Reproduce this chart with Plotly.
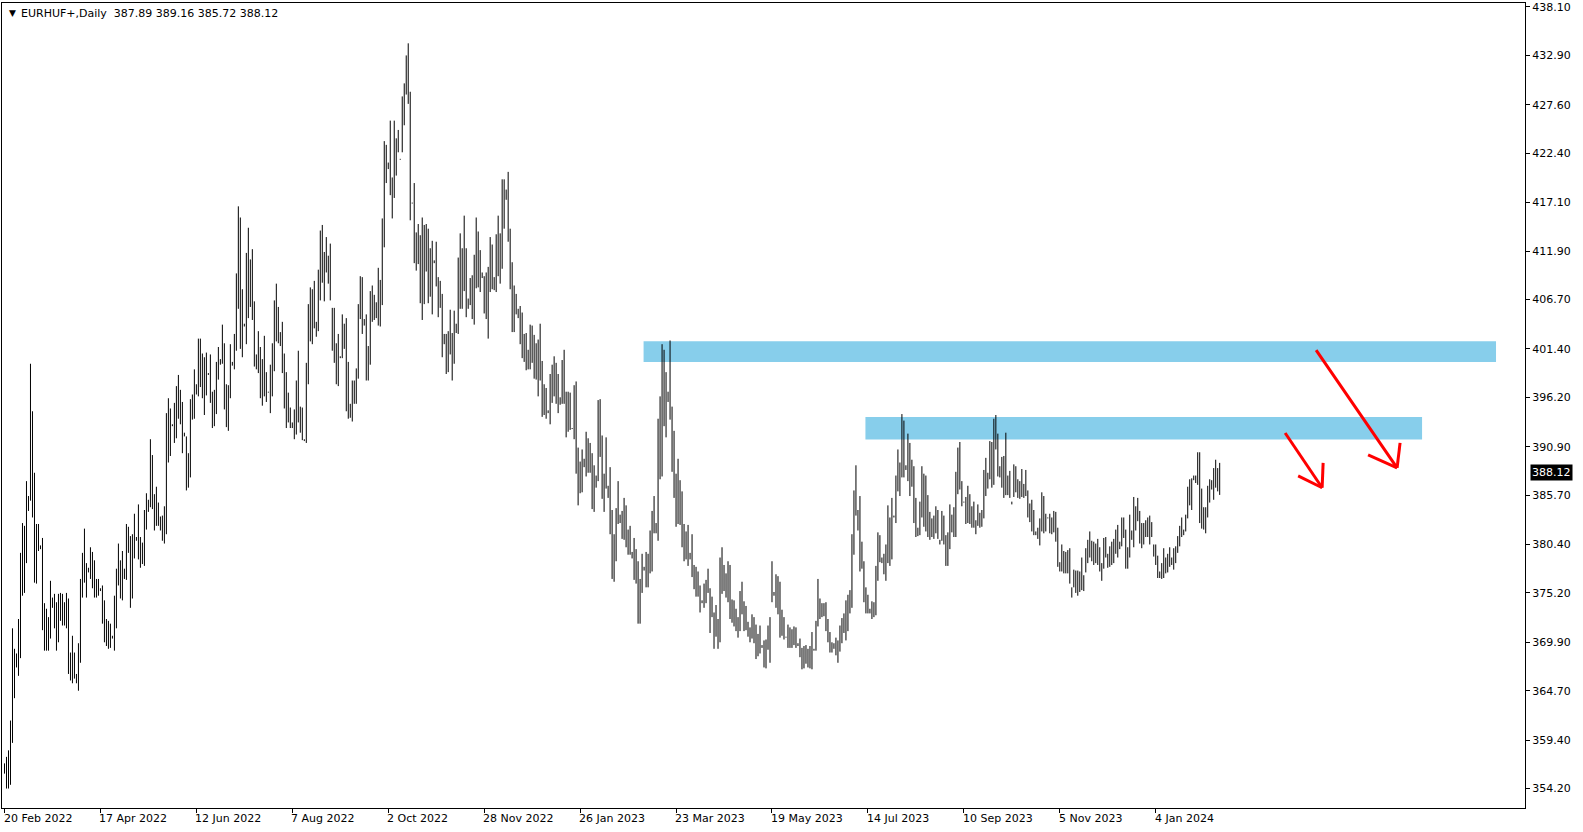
import plotly.graph_objects as go

symbol_title = "EURHUF+,Daily"
last_ohlc = [387.89, 389.16, 385.72, 388.12]

# Daily bar highs (left to right)
highs = [
    356.9, 357.6, 358.3, 361.5, 371.4, 369.2, 368.7, 372.4, 379.5, 382.7,
    382.4, 387.2, 385.6, 399.8, 394.7, 388.1, 382.6, 382.6, 380.3, 381.1,
    374.1, 373.5, 372.6, 376.5, 374.7, 375.1, 374.2, 375.1, 375.2, 375.1,
    374.2, 375.2, 374.6, 368.8, 370.6, 368.8, 366.5, 369.8, 376.7, 379.5,
    382.1, 378.4, 377.9, 380.1, 379.6, 378.7, 376.7, 376.7, 375.7, 376.0,
    374.4, 372.4, 372.2, 371.9, 370.6, 374.9, 377.8, 380.5, 378.7, 379.7,
    377.8,
    382.6, 382.3, 381.3, 381.5, 383.7, 381.2, 384.7, 381.2, 380.6, 384.1,
    385.9, 385.2, 391.7, 390.0, 385.8, 386.6, 384.9, 383.4, 383.5, 384.5,
    394.5, 396.1, 395.0, 393.3, 395.6, 397.4, 398.6, 397.0, 395.7, 392.4,
    392.0, 390.2, 396.0, 396.5, 399.2, 397.6, 402.5, 402.5, 400.9, 400.5,
    401.0, 398.8, 400.8, 396.8, 397.0, 400.0, 401.6, 400.3, 404.0, 402.0,
    397.6, 397.5, 401.9, 400.0, 403.0, 409.5, 416.7, 415.5, 407.8, 404.1,
    411.7, 414.4, 411.0, 412.1, 406.5, 400.8, 403.3, 401.6, 400.3, 402.8,
    398.9, 396.8, 399.7, 402.0, 406.6, 408.4, 405.9, 403.2, 404.3, 400.9,
    398.9, 396.7, 395.1, 393.5, 394.9, 398.0, 401.2, 395.2, 395.1, 391.7,
    399.9, 406.2, 408.0, 407.8, 408.7, 404.3, 409.9, 414.1, 414.7, 411.8,
    413.4, 411.4, 412.7, 405.8, 405.8, 402.0, 403.0, 400.6, 405.1, 404.1,
    404.7, 400.0, 395.5, 398.0, 398.0, 399.3, 406.2, 409.2, 409.1, 404.6,
    405.1, 401.7, 407.6, 408.2, 407.2, 406.4, 410.1, 408.8, 415.4, 423.7,
    423.3, 421.4, 425.9, 419.8, 425.9, 424.0, 424.9, 421.8, 428.5, 429.9,
    432.9, 434.2, 429.0, 417.1, 419.2, 413.9, 414.8, 413.6, 415.5, 414.7,
    414.8, 414.3, 412.2, 413.0, 410.9, 412.9, 409.1, 408.7, 407.3, 403.0,
    403.0, 403.3, 405.6, 403.1, 405.5, 404.1, 411.2, 413.8, 412.2, 415.7,
    412.2, 406.8, 409.0, 409.3, 411.5, 415.5, 414.0, 412.0, 409.6, 409.2,
    409.6, 410.2, 413.4, 412.6, 409.1, 413.7, 415.7, 413.8, 419.6, 419.6,
    418.5, 420.4, 414.3, 410.7, 408.2, 407.3, 405.7, 406.0, 405.3, 403.0,
    403.1, 401.3, 404.0, 403.9, 402.9, 402.0, 402.4, 404.1, 400.1, 397.6,
    397.2, 394.8, 398.7, 399.7, 400.6, 399.9, 398.7, 396.2, 400.2, 401.3,
    396.8, 396.8, 396.7, 392.9, 397.5, 397.9, 390.8, 389.3, 390.6, 389.6,
    392.5, 391.8, 391.3, 390.2, 388.9, 387.8, 395.9, 396.0, 392.1, 388.0,
    391.9, 386.7, 388.7, 384.1, 381.5, 384.3, 387.2, 383.6, 384.0, 385.4,
    384.6, 382.0, 382.4, 379.6, 381.1, 379.9, 378.6, 376.7, 379.4, 378.0,
    379.6, 379.4, 381.9, 384.0, 385.6, 382.7, 393.9, 396.3, 401.9, 401.3,
    398.9, 396.8, 402.3, 395.2, 392.6, 388.0, 389.6, 387.3, 386.1, 382.6,
    381.8, 382.5, 379.5, 381.5, 378.2, 378.0, 377.5, 376.0, 374.4, 376.2,
    376.6, 377.8, 375.7, 374.8, 373.1, 373.9, 372.4, 379.0, 380.1, 378.2,
    377.3, 378.6, 378.2, 374.5, 374.4, 373.5, 372.6, 375.4, 376.4, 374.3,
    373.8, 372.1, 371.5, 372.9, 372.6, 371.8, 370.8, 371.7, 369.6, 370.1,
    370.2, 371.7, 372.6, 378.6, 375.3, 377.2, 377.0, 376.4, 373.4, 372.6,
    370.5, 371.8, 371.5, 371.3, 371.6, 371.5, 369.8, 370.3, 369.3, 369.5,
    369.6, 369.2, 369.5, 371.0, 369.2, 372.2, 376.7, 374.6, 374.1, 374.1,
    374.2, 372.4, 371.0, 369.9, 369.8, 370.4, 370.1, 371.7, 372.5, 373.0,
    374.4, 375.0, 375.5, 381.5, 386.2, 388.9, 384.1, 385.6, 380.7, 378.6,
    375.8, 375.0, 373.5, 374.3, 374.2, 378.1, 381.7, 381.4, 379.0, 379.4,
    380.4, 384.6, 383.3, 385.4, 383.5, 387.8, 390.6, 389.2, 394.4, 393.7,
    388.9, 392.3, 391.3, 389.5, 388.8, 385.4, 382.2, 385.0, 388.8, 388.0,
    387.8, 385.7, 383.9, 383.2, 383.5, 384.5, 384.1, 380.9, 384.0, 383.5,
    381.4, 381.7, 384.7, 383.6, 384.4, 388.2, 390.8, 391.4, 387.2, 385.0,
    385.5, 386.7, 385.8, 384.5, 385.0, 383.0, 384.7, 383.8, 384.1, 388.4,
    389.7, 388.1, 391.5, 391.4, 393.9, 394.3, 392.3, 388.8, 389.8, 389.9,
    392.4, 387.8, 388.3, 385.0, 389.0, 388.8, 387.4, 387.2, 388.5, 386.9,
    388.4, 386.2, 384.8, 385.2, 384.1, 381.8, 382.2, 383.2, 386.0, 385.6,
    383.7, 383.3, 383.7, 383.3, 384.0, 383.9, 382.2, 378.5, 380.4, 379.7,
    379.6, 379.8, 380.0, 375.8, 377.7, 377.6, 377.6, 377.5, 379.0, 377.1,
    380.0, 380.9, 381.8, 380.8, 380.7, 380.5, 381.0, 380.1, 378.4, 381.1,
    381.2, 379.4, 380.2, 380.7, 381.0, 382.0, 382.5, 380.7, 383.3, 383.3,
    382.0, 380.1, 383.6, 381.9, 385.5, 384.5, 385.4, 384.0, 382.7, 382.7,
    383.0, 383.3, 383.5, 382.8, 380.4, 380.4, 379.2, 377.5, 378.4, 380.0,
    379.0, 379.4, 380.1, 379.0, 380.0, 380.2, 381.3, 382.4, 383.3, 382.0,
    383.6, 386.6, 387.4, 387.5, 387.8, 387.8, 390.3, 390.3, 386.4, 384.4,
    384.4, 386.7, 387.4, 387.3, 388.6, 389.5, 388.6, 389.16,
]

# Daily bar lows (left to right)
lows = [
    355.8, 354.2, 354.2, 354.6, 359.1, 363.9, 367.2, 366.3, 368.2, 374.9,
    375.2, 378.4, 384.0, 385.1, 383.3, 376.3, 376.2, 379.7, 379.9, 371.2,
    369.0, 369.0, 369.0, 370.3, 373.6, 371.4, 369.0, 369.9, 372.2, 371.7,
    371.7, 371.4, 366.5, 365.8, 365.5, 366.0, 365.5, 364.7, 367.7, 374.7,
    376.3, 374.7, 377.4, 376.7, 375.7, 374.7, 374.7, 374.9, 375.4, 371.9,
    369.9, 369.5, 369.2, 369.3, 370.3, 369.0, 371.4, 376.0, 374.6, 374.4,
    376.7,
    376.6, 379.5, 373.6, 374.6, 378.9, 380.8, 378.8, 377.9, 378.3, 378.1,
    382.0, 383.9, 384.4, 384.2, 381.9, 382.4, 382.4, 381.9, 380.8, 380.5,
    381.5, 389.2, 389.9, 393.1, 391.3, 391.8, 393.9, 393.3, 390.2, 392.0,
    386.2, 386.5, 387.6, 393.8, 393.9, 396.5, 396.3, 397.3, 396.1, 394.3,
    396.4, 398.6, 395.6, 392.9, 393.1, 394.4, 398.1, 399.7, 399.8, 394.9,
    393.0, 392.6, 396.1, 399.6, 399.2, 401.2, 405.7, 401.4, 400.5, 403.8,
    401.9, 404.7, 405.9, 404.5, 399.5, 399.2, 398.8, 396.1, 395.3, 396.3,
    395.7, 396.7, 394.5, 396.3, 399.0, 402.2, 402.0, 401.7, 398.8, 395.0,
    392.9, 393.5, 392.9, 392.9, 391.7, 392.2, 393.5, 392.4, 391.6, 391.5,
    391.3, 397.6, 402.2, 401.9, 403.6, 402.7, 403.3, 406.6, 408.5, 406.5,
    409.6, 408.4, 406.6, 401.2, 399.9, 397.6, 397.4, 400.4, 400.4, 401.4,
    394.7, 393.9, 394.0, 393.6, 395.5, 395.5, 398.2, 404.6, 403.0, 403.9,
    398.0, 398.0, 399.7, 404.3, 404.5, 404.7, 403.9, 403.8, 406.1, 412.3,
    419.2, 420.7, 417.9, 415.4, 417.6, 420.0, 422.5, 421.7, 422.5, 425.4,
    428.7, 427.7, 415.2, 417.0, 410.6, 409.8, 410.5, 406.3, 404.5, 406.2,
    409.7, 406.3, 407.0, 405.1, 410.6, 408.1, 404.8, 405.8, 400.5, 401.9,
    398.7, 398.9, 400.8, 398.0, 399.8, 403.1, 403.0, 405.7, 405.7, 407.6,
    404.8, 405.7, 406.1, 404.6, 404.0, 407.9, 408.0, 407.5, 409.0, 405.2,
    404.6, 402.5, 407.5, 407.8, 407.7, 407.5, 409.2, 408.4, 410.0, 414.3,
    417.4, 412.9, 407.8, 403.2, 403.2, 405.1, 404.7, 401.9, 400.4, 400.0,
    399.1, 399.2, 399.2, 399.9, 398.2, 398.1, 396.3, 398.0, 394.1, 394.3,
    393.9, 394.5, 393.3, 395.6, 396.3, 395.5, 394.5, 395.4, 395.5, 395.5,
    391.9, 392.5, 392.7, 392.8, 391.7, 388.0, 384.6, 385.9, 386.0, 388.7,
    387.7, 388.1, 388.1, 384.2, 383.9, 386.5, 387.2, 389.8, 385.3, 383.9,
    386.4, 385.4, 381.5, 376.7, 376.4, 378.6, 382.6, 382.7, 381.0, 380.9,
    380.1, 379.3, 379.3, 378.9, 376.6, 376.2, 371.9, 371.9, 375.2, 377.6,
    375.8, 375.8, 377.3, 377.5, 381.6, 381.6, 380.8, 387.4, 387.7, 393.1,
    391.9, 395.7, 393.8, 388.2, 385.4, 382.3, 382.6, 382.5, 380.1, 378.6,
    378.8, 378.1, 378.8, 376.9, 375.6, 374.8, 374.8, 373.1, 374.1, 373.6,
    374.1, 375.2, 370.9, 372.6, 369.2, 370.5, 369.2, 369.9, 375.1, 375.4,
    374.7, 374.2, 372.4, 372.0, 371.6, 371.1, 370.4, 371.1, 372.9, 371.1,
    371.2, 370.5, 369.9, 370.3, 369.8, 368.1, 368.4, 368.7, 369.3, 367.2,
    367.1, 369.1, 367.7, 374.2, 374.9, 373.6, 372.9, 370.4, 370.6, 370.2,
    370.4, 369.3, 369.3, 369.3, 369.6, 369.3, 369.5, 368.3, 367.0, 367.1,
    367.6, 367.2, 367.1, 367.0, 369.0, 369.0, 371.6, 372.4, 372.6, 372.7,
    371.1, 369.9, 368.8, 368.8, 369.2, 368.5, 367.7, 368.9, 369.8, 370.9,
    370.1, 371.1, 373.0, 373.6, 379.3, 383.5, 381.9, 377.5, 377.8, 374.2,
    373.0, 373.0, 373.0, 372.4, 372.6, 372.8, 376.5, 378.5, 378.4, 377.2,
    376.5, 378.4, 378.1, 378.8, 383.3, 382.7, 386.1, 385.6, 387.6, 387.6,
    388.4, 387.2, 385.6, 386.6, 382.7, 381.2, 381.3, 381.4, 383.3, 382.3,
    381.8, 381.2, 380.9, 381.2, 381.0, 381.6, 381.0, 380.4, 380.8, 380.4,
    378.1, 378.1, 379.9, 381.7, 381.2, 381.2, 385.8, 386.3, 384.5, 384.9,
    382.6, 382.7, 382.6, 382.2, 382.2, 381.5, 382.4, 382.2, 382.3, 383.2,
    385.6, 386.4, 387.4, 386.5, 386.8, 390.6, 387.7, 387.6, 386.5, 385.4,
    385.7, 385.7, 385.4, 384.7, 385.5, 386.0, 385.4, 385.3, 385.5, 385.4,
    385.6, 383.3, 382.8, 381.8, 381.4, 381.4, 381.0, 380.3, 381.8, 381.6,
    381.8, 383.2, 381.6, 381.5, 381.7, 380.7, 378.0, 377.5, 377.5, 377.3,
    377.3, 377.3, 376.2, 374.7, 375.8, 375.2, 374.9, 375.3, 375.5, 375.4,
    377.4, 378.4, 379.0, 378.6, 378.2, 378.4, 378.2, 377.5, 376.5, 377.8,
    379.0, 377.9, 378.0, 378.2, 378.4, 379.4, 379.0, 379.9, 380.2, 381.1,
    377.8, 377.8, 379.0, 380.9, 380.1, 381.9, 382.9, 380.5, 380.0, 380.4,
    381.2, 381.2, 380.4, 381.2, 379.1, 378.2, 376.8, 376.8, 376.7, 376.8,
    377.3, 377.4, 378.0, 378.2, 377.7, 378.4, 379.5, 380.2, 381.2, 381.4,
    381.8, 383.2, 384.6, 384.1, 387.3, 387.0, 386.8, 382.7, 382.1, 382.0,
    381.6, 383.3, 384.9, 386.3, 385.2, 386.5, 386.1, 385.72,
]

date_labels = [
    "20 Feb 2022", "17 Apr 2022", "12 Jun 2022", "7 Aug 2022", "2 Oct 2022",
    "28 Nov 2022", "26 Jan 2023", "23 Mar 2023", "19 May 2023", "14 Jul 2023",
    "10 Sep 2023", "5 Nov 2023", "4 Jan 2024",
]
bars_per_date_label = 48

price_ticks = [438.10, 432.90, 427.60, 422.40, 417.10, 411.90, 406.70, 401.40,
               396.20, 390.90, 385.70, 380.40, 375.20, 369.90, 364.70, 359.40, 354.20]

# Drawn zones: (first bar, last bar, lower price, upper price)
zones = [
    (319.75, 746.25, 399.98, 402.23),
    (430.75, 709.25, 391.66, 394.09),
]
# Drawn arrows: shaft start, tip, and two head ends (bar, price)
arrows = [
    [(640.75, 392.37), (659.25, 386.49), (659.75, 389.16), (647.25, 387.77)],
    [(656.25, 401.26), (696.75, 388.63), (698.25, 391.31), (682.25, 390.02)],
]

FONT = "DejaVu Sans"
n = len(highs)

# High-low bars as vertical segments (x = bar number)
seg_x, seg_y = [], []
for i, (h, l) in enumerate(zip(highs, lows)):
    seg_x += [i, i, None]
    seg_y += [l, h, None]

fig = go.Figure()
fig.add_trace(go.Scatter(
    x=seg_x, y=seg_y, mode="lines", connectgaps=False,
    line=dict(color="black", width=1), hoverinfo="skip",
))

shapes = []
for x0, x1, y0, y1 in zones:
    shapes.append(dict(type="rect", xref="x", yref="y", x0=x0, x1=x1, y0=y0, y1=y1,
                       fillcolor="#87CEEB", line=dict(width=0), layer="below"))
for start, tip, h1, h2 in arrows:
    for a, b in ((start, tip), (h1, tip), (h2, tip)):
        shapes.append(dict(type="line", xref="x", yref="y", x0=a[0], y0=a[1], x1=b[0], y1=b[1],
                           line=dict(color="#FF0000", width=3)))

annotations = []
for k, lab in enumerate(date_labels):
    annotations.append(dict(x=k * bars_per_date_label, xref="x", y=0, yref="paper",
                            xanchor="left", yanchor="top", xshift=-3, yshift=-2,
                            text=lab, showarrow=False,
                            font=dict(family=FONT, size=11, color="black")))
annotations.append(dict(x=0, xref="paper", y=1, yref="paper", xanchor="center", yanchor="top",
                        xshift=10, yshift=-3, text="\u25BC", showarrow=False,
                        font=dict(family=FONT, size=9, color="black")))
annotations.append(dict(x=0, xref="paper", y=1, yref="paper", xanchor="left", yanchor="top",
                        xshift=17, yshift=-2, showarrow=False,
                        text=symbol_title + "\u00a0\u00a0" + " ".join(f"{v:.2f}" for v in last_ohlc),
                        font=dict(family=FONT, size=11, color="black")))
annotations.append(dict(x=1, xref="paper", y=last_ohlc[3], yref="y", xanchor="left",
                        xshift=5, text=f"{last_ohlc[3]:.2f}", showarrow=False,
                        bgcolor="black", borderpad=1,
                        font=dict(family=FONT, size=11, color="white")))

fig.update_layout(
    width=1583, height=832,
    margin=dict(l=1, r=58, t=1, b=24),
    plot_bgcolor="white", paper_bgcolor="white",
    showlegend=False,
    shapes=shapes, annotations=annotations,
    xaxis=dict(range=[-1.25, 760.75], showgrid=False, zeroline=False,
               showline=True, linecolor="black", linewidth=1, mirror=True,
               tickvals=[k * bars_per_date_label for k in range(len(date_labels))],
               ticks="outside", ticklen=4, tickcolor="black", showticklabels=False),
    yaxis=dict(side="right", range=[352.111, 438.528], showgrid=False, zeroline=False,
               showline=True, linecolor="black", linewidth=1, mirror=True,
               tickvals=price_ticks, ticktext=[f"{v:.2f}" for v in price_ticks],
               ticks="outside", ticklen=4, tickcolor="black", ticklabeloverflow="allow",
               tickfont=dict(family=FONT, size=11, color="black")),
)

fig.write_html("out.html", config={"displayModeBar": False},
               post_script="document.body.style.margin='0px';document.body.style.overflow='hidden';")
